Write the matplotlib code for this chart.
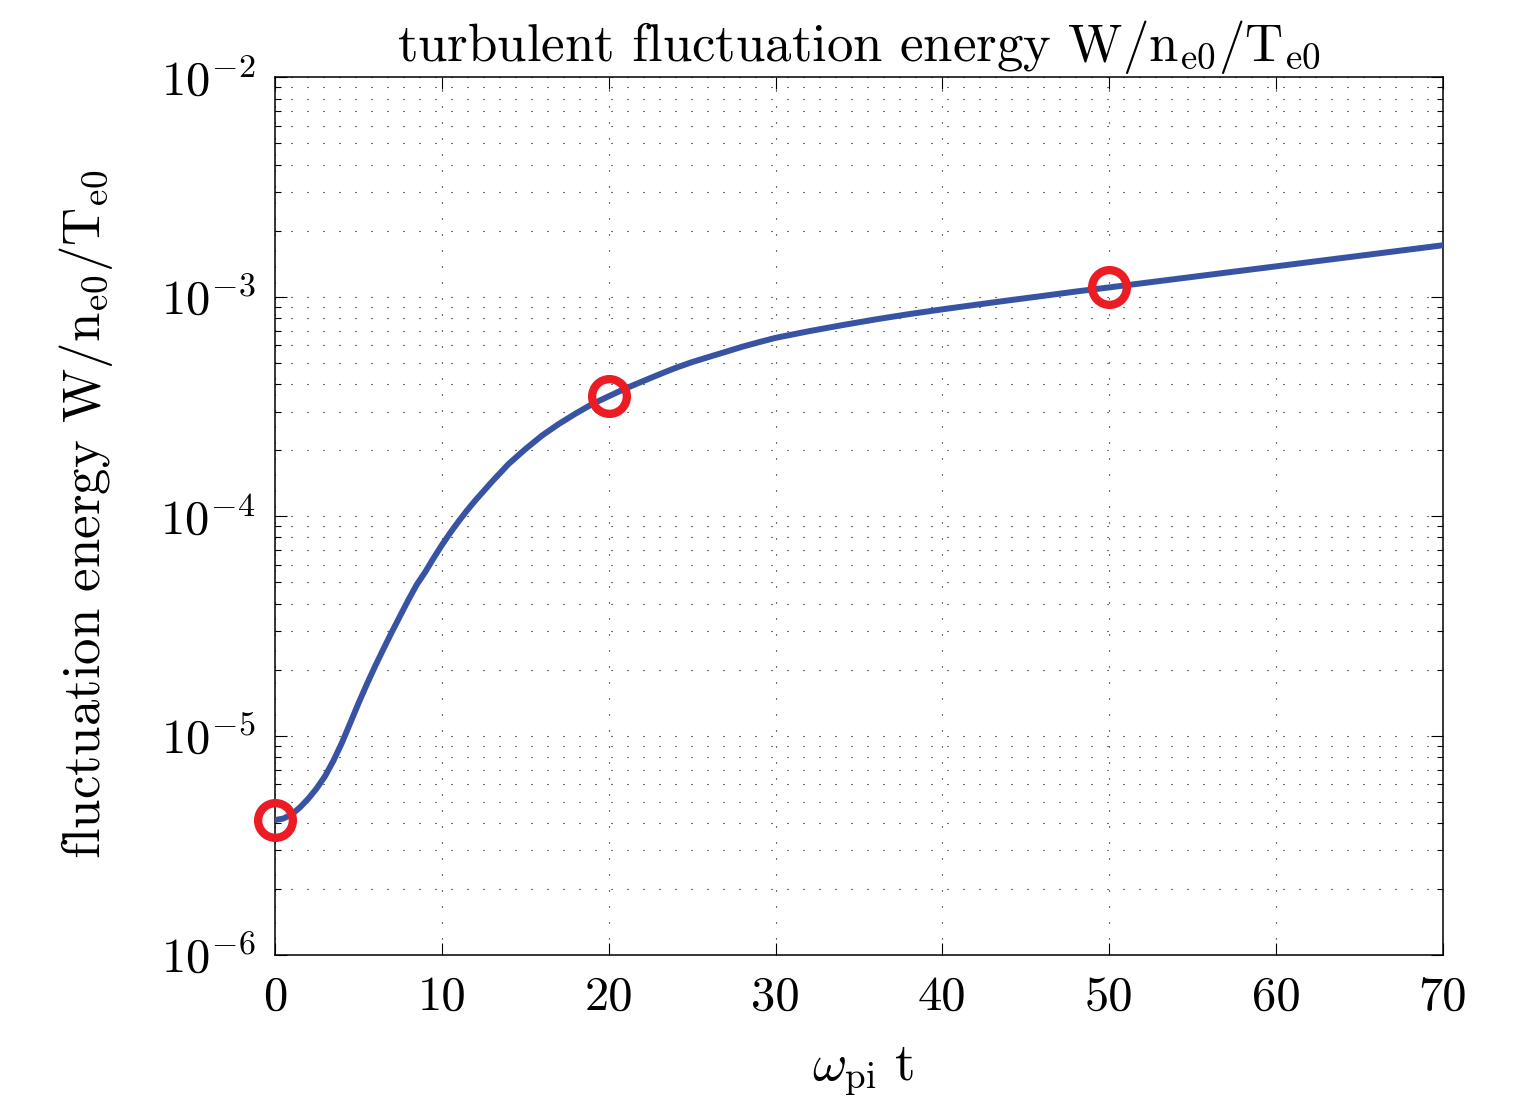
import numpy as np
import matplotlib
matplotlib.use("Agg")
import matplotlib.pyplot as plt
from matplotlib.ticker import LogLocator, FuncFormatter

# values (time in 1/omega_pi, energy W/n_e0/T_e0)
t = [0, 0.5, 1, 1.5, 2, 2.5, 3, 3.5, 4, 4.5, 5, 5.5, 6, 6.5, 7, 7.5, 8, 8.5,
     9, 9.5, 10, 10.5, 11, 11.5, 12, 13, 14, 15, 16, 17, 18, 19, 20, 21, 22,
     23, 24, 25, 26, 27, 28, 29, 30, 32, 34, 36, 38, 40, 42, 44, 46, 48, 50,
     55, 60, 65, 70]
W = [4.12e-6, 4.19e-6, 4.37e-6, 4.71e-6, 5.16e-6, 5.75e-6, 6.53e-6, 7.67e-6,
     9.23e-6, 1.135e-5, 1.40e-5, 1.71e-5, 2.07e-5, 2.48e-5, 2.96e-5, 3.51e-5,
     4.16e-5, 4.88e-5, 5.56e-5, 6.43e-5, 7.38e-5, 8.39e-5, 9.46e-5, 1.06e-4,
     1.178e-4, 1.435e-4, 1.73e-4, 2.02e-4, 2.33e-4, 2.63e-4, 2.93e-4, 3.24e-4,
     3.52e-4, 3.82e-4, 4.11e-4, 4.42e-4, 4.74e-4, 5.04e-4, 5.32e-4, 5.61e-4,
     5.92e-4, 6.21e-4, 6.50e-4, 6.97e-4, 7.43e-4, 7.89e-4, 8.34e-4, 8.77e-4,
     9.20e-4, 9.64e-4, 1.009e-3, 1.057e-3, 1.104e-3, 1.233e-3, 1.377e-3,
     1.538e-3, 1.718e-3]

# marked snapshots
mark_t = [0, 20, 50]
mark_W = [4.12e-6, 3.52e-4, 1.104e-3]

xticks = [0, 10, 20, 30, 40, 50, 60, 70]

plt.rcParams['font.family'] = 'cmr10'
plt.rcParams['mathtext.fontset'] = 'cm'
plt.rcParams['axes.formatter.use_mathtext'] = True
FS = 38     # title / labels
TFS = 35    # tick labels

fig = plt.figure(figsize=(15.36, 11.06), dpi=100)
ax = fig.add_axes([0.179, 0.1365, 0.7604, 0.7935])

ax.plot(t, W, color='#3953a4', lw=4.3, solid_joinstyle='round', zorder=3)
ax.plot(mark_t, mark_W, 'o', ms=25, mfc='none', mec='#ec1c24', mew=6,
        clip_on=False, zorder=4)

ax.set_yscale('log')
ax.set_xlim(0, 70)
ax.set_ylim(1e-6, 1e-2)
ax.set_xticks(xticks)
ax.xaxis.set_major_formatter(FuncFormatter(lambda v, p: '%d' % v))
ax.yaxis.set_major_locator(LogLocator(base=10, numticks=10))
ax.yaxis.set_minor_locator(LogLocator(base=10, subs=np.arange(2, 10), numticks=20))
ax.yaxis.set_major_formatter(FuncFormatter(lambda v, p: r'$10^{%d}$' % round(np.log10(v))))

# matlab style dotted grid
dots = (0, (1, 13.4))
ax.grid(True, which='major', axis='both', color='k', lw=0.8, linestyle=dots)
ax.grid(True, which='minor', axis='y', color='k', lw=0.8, linestyle=dots)

ax.tick_params(which='both', direction='in', top=True, right=True, width=0.8,
               labelsize=TFS)
ax.tick_params(which='major', length=8.5)
ax.tick_params(which='minor', length=4.3)
ax.tick_params(axis='x', pad=15)
ax.tick_params(axis='y', pad=14)
for s in ax.spines.values():
    s.set_linewidth(1.1)

ax.set_title(r'turbulent fluctuation energy W/n$_{\rm e0}$/T$_{\rm e0}$',
             fontsize=FS, pad=12)
fig.text(0.056, 0.535, r'fluctuation energy W/n$_{\rm e0}$/T$_{\rm e0}$',
         rotation=90, ha='center', va='center', fontsize=FS)
fig.text(0.562, 26 / 1106, r'$\omega_{\rm pi}\ {\rm t}$', ha='center',
         va='baseline', fontsize=FS)

fig.savefig('out.png', dpi=100)
